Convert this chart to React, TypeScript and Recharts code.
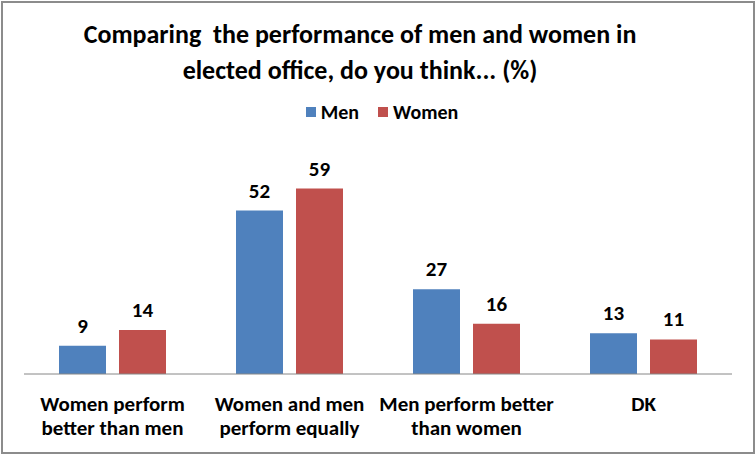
import React from 'react';
import { BarChart, Bar, XAxis, YAxis, LabelList } from 'recharts';

const categories = ['Women perform better than men', 'Women and men perform equally', 'Men perform better than women', 'DK'];
const tickLines = [
    ['Women perform', 'better than men'],
    ['Women and men', 'perform equally'],
    ['Men perform better', 'than women'],
    ['DK'],
];
const men = [9, 52, 27, 13];
const women = [14, 59, 16, 11];

const data = categories.map((c, i) => ({ name: c, idx: i, men: men[i], women: women[i] }));

const FONT = 'Carlito, Lato, "Open Sans", sans-serif';

const CategoryTick = ({ x, y, payload }: any) => {
    const lines = tickLines[payload.index] || [payload.value];
    return (
        <g transform={`translate(${x},${y})`}>
            {lines.map((l, i) => (
                <text key={i} x={0} y={29 + i * 24} textAnchor="middle" fontFamily={FONT} fontWeight="bold" fontSize={21} fill="#000">
                    {l}
                </text>
            ))}
        </g>
    );
};

const legendItems = [['Men', '#4F81BD'], ['Women', '#C0504D']];

export default function App() {
    return (
        <div style={{ position: 'absolute', left: 0, top: 0, width: 756, height: 454 }}>
            <div style={{
                position: 'absolute', left: 1, top: 1, width: 750, height: 449,
                border: '2px solid #8c8c8c', boxSizing: 'content-box'
            }} />
            <div style={{
                position: 'absolute', left: -18, top: 16, width: 756, textAlign: 'center',
                fontFamily: FONT, fontWeight: 'bold', fontSize: 26, lineHeight: '36px', color: '#000'
            }}>
                Comparing&nbsp; the performance of men and women in<br />elected office, do you think... (%)
            </div>
            <div style={{
                position: 'absolute', left: 4, top: 99, width: 756, display: 'flex', justifyContent: 'center', gap: 19,
                fontFamily: FONT, fontWeight: 'bold', fontSize: 20, lineHeight: '26px'
            }}>
                {legendItems.map(([n, c]) => (
                    <span key={n} style={{ display: 'flex', alignItems: 'center' }}>
                        <span style={{ width: 10, height: 10, background: c, display: 'inline-block', marginRight: 5 }} />
                        {n}
                    </span>
                ))}
            </div>
            <BarChart
                width={756}
                height={454}
                data={data}
                margin={{ top: 154, right: 24, bottom: 0, left: 24 }}
                barGap={13}
                barSize={47}
                style={{ position: 'absolute', left: 0, top: 0 }}
            >
                <XAxis
                    dataKey="name"
                    axisLine={{ stroke: '#868686' }}
                    tickLine={false}
                    height={80}
                    interval={0}
                    tick={<CategoryTick />}
                />
                <YAxis hide domain={[0, 70]} allowDataOverflow ticks={[0, 70]} />
                <Bar dataKey="men" name="Men" fill="#4F81BD" isAnimationActive={false}>
                    <LabelList dataKey="men" position="top" offset={13} fontFamily={FONT} fontWeight="bold" fontSize={21} fill="#000" />
                </Bar>
                <Bar dataKey="women" name="Women" fill="#C0504D" isAnimationActive={false}>
                    <LabelList dataKey="women" position="top" offset={13} fontFamily={FONT} fontWeight="bold" fontSize={21} fill="#000" />
                </Bar>
            </BarChart>
        </div>
    );
}
